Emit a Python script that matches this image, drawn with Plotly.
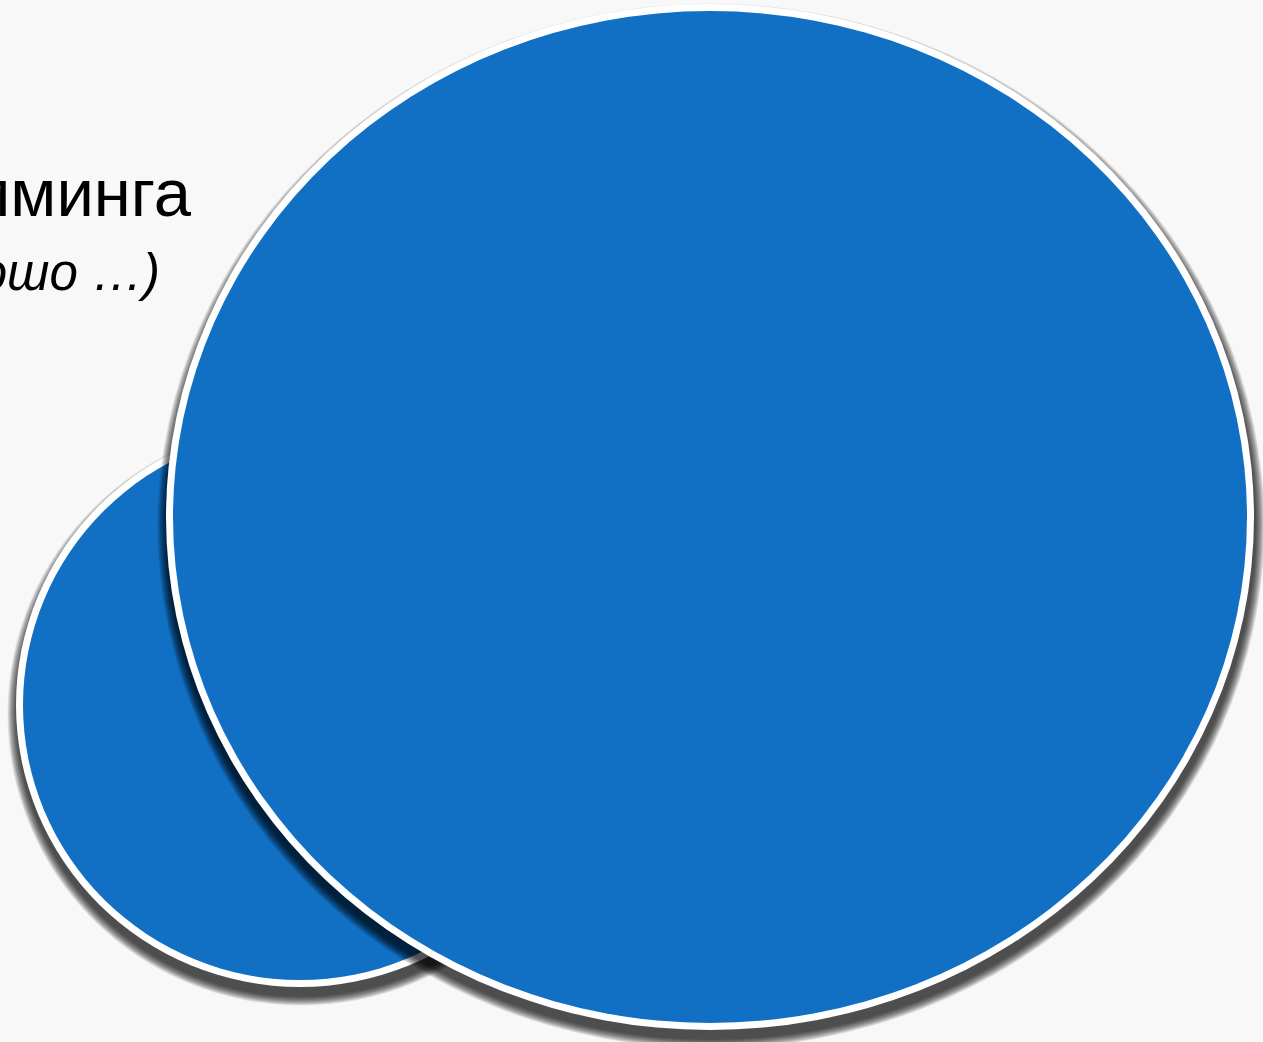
import plotly.graph_objects as go

# Bubble data (centre x, centre y, radius x, radius y) in the plot's units
bubble_names = ["small", "large"]
bubble_cx = [300, 710]
bubble_cy = [705, 517]
bubble_rx = [284, 544]
bubble_ry = [282, 513]
bubble_color = "#116FC4"
border_width = 7

line1_text = "Сложность программинга"
line2_text = "(и это хорошо …)"

W, H = 1263, 1042
fig = go.Figure()

shapes = []
for cx, cy, rx, ry in zip(bubble_cx, bubble_cy, bubble_rx, bubble_ry):
    # soft shadow (stacked translucent ellipses, offset downward)
    n = 16
    for k in range(n, 0, -1):
        g = k * 0.6
        shapes.append(dict(type="circle", xref="x", yref="y",
                           x0=cx - rx - g + 1, x1=cx + rx + g + 1,
                           y0=cy - ry - g + 9, y1=cy + ry + g + 9,
                           fillcolor="rgba(0,0,0,0.065)", line=dict(width=0),
                           layer="above"))
    # white rim
    shapes.append(dict(type="circle", xref="x", yref="y",
                       x0=cx - rx, x1=cx + rx, y0=cy - ry, y1=cy + ry,
                       fillcolor="white", line=dict(width=0), layer="above"))
    # blue body
    b = border_width
    shapes.append(dict(type="circle", xref="x", yref="y",
                       x0=cx - rx + b, x1=cx + rx - b, y0=cy - ry + b, y1=cy + ry - b,
                       fillcolor=bubble_color, line=dict(width=0), layer="above"))

fig.add_trace(go.Scatter(x=[0, W], y=[0, H], mode="markers",
                         marker=dict(opacity=0), hoverinfo="skip", showlegend=False))

annotations = [
    dict(x=194, y=192, xref="x", yref="y", text=line1_text, showarrow=False,
         xanchor="right", yanchor="middle",
         font=dict(family="Liberation Sans, Arial", size=67, color="#000000")),
    dict(x=162, y=272, xref="x", yref="y", text="<i>" + line2_text + "</i>", showarrow=False,
         xanchor="right", yanchor="middle",
         font=dict(family="Liberation Sans, Arial", size=51, color="#000000")),
]

fig.update_layout(
    width=W, height=H,
    margin=dict(l=0, r=0, t=0, b=0),
    paper_bgcolor="#f8f8f8", plot_bgcolor="#f8f8f8",
    xaxis=dict(range=[0, W], visible=False, fixedrange=True),
    yaxis=dict(range=[H, 0], visible=False, fixedrange=True),
    shapes=shapes, annotations=annotations, showlegend=False,
)
fig.write_html("out.html", config={"displayModeBar": False},
               post_script="document.body.style.margin='0';document.body.style.overflow='hidden';")
